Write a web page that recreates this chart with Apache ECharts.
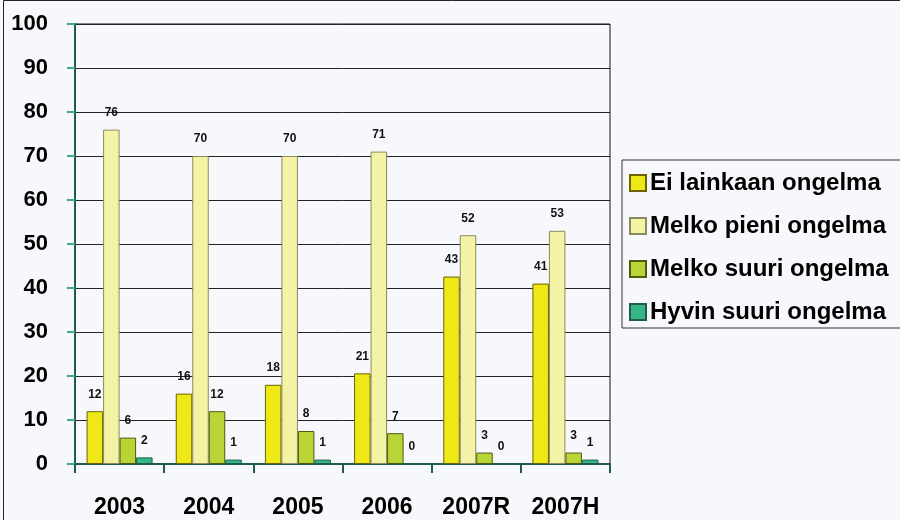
<!DOCTYPE html>
<html>
<head>
<meta charset="utf-8">
<script src="https://cdn.jsdelivr.net/npm/echarts@6/dist/echarts.min.js"></script>
<style>
  html, body { margin: 0; padding: 0; background: #F7F8FC; }
  #chart { width: 900px; height: 520px; }
</style>
</head>
<body>
<div id="chart"></div>
<script>
// vuodet
const categories = ['2003', '2004', '2005', '2006', '2007R', '2007H'];
const seriesNames = ['Ei lainkaan ongelma', 'Melko pieni ongelma', 'Melko suuri ongelma', 'Hyvin suuri ongelma'];

// pylväiden korkeudet (luettu kuvasta)
const eiLainkaan = [12, 16, 18, 20.6, 42.6, 41];
const melkoPieni = [76, 70, 70, 71, 52, 53];
const melkoSuuri = [6, 12, 7.5, 7, 2.6, 2.6];
const hyvinSuuri = [1.5, 1, 1, 0, 0, 1];

// näytetyt arvot
const labelsEi = [12, 16, 18, 21, 43, 41];
const labelsPieni = [76, 70, 70, 71, 52, 53];
const labelsSuuri = [6, 12, 8, 7, 3, 3];
const labelsHyvin = [2, 1, 1, 0, 0, 1];

const yTicks = [0, 10, 20, 30, 40, 50, 60, 70, 80, 90, 100];

const colors = ['#EEE817', '#F3F2A5', '#B9D435', '#35B686'];
const borders = ['#6B6400', '#8A8A60', '#4F5A10', '#1E5E48'];

const chart = echarts.init(document.getElementById('chart'));

const makeSeries = (i, values, labels) => ({
  name: seriesNames[i],
  type: 'bar',
  barGap: 0,
  barCategoryGap: '26%',
  data: values,
  itemStyle: { color: colors[i], borderColor: borders[i], borderWidth: 1 },
  label: {
    show: true,
    position: 'top',
    distance: 11,
    fontFamily: 'Liberation Sans',
    fontWeight: 'bold',
    fontSize: 12,
    color: '#111',
    formatter: (p) => String(labels[p.dataIndex])
  },
  animation: false
});

const option = {
  backgroundColor: '#F7F8FC',
  grid: {
    left: 75,
    right: 290,
    top: 24,
    bottom: 56,
    show: true,
    borderColor: '#111',
    borderWidth: 1,
    backgroundColor: 'transparent'
  },
  legend: {
    orient: 'vertical',
    left: 622,
    top: 160,
    width: 300,
    itemWidth: 16,
    itemHeight: 16,
    itemGap: 19,
    padding: [11, 20, 4, 7],
    borderColor: '#333',
    borderWidth: 1,
    icon: 'rect',
    textStyle: {
      fontFamily: 'Liberation Sans',
      fontWeight: 'bold',
      fontSize: 24,
      color: '#000',
      padding: [0, 0, 0, -1]
    },
    data: seriesNames
  },
  xAxis: {
    type: 'category',
    data: categories,
    axisLine: { lineStyle: { color: '#1E5E48', width: 2 } },
    axisTick: { show: true, length: 9, lineStyle: { color: '#1E5E48', width: 2 } },
    axisLabel: {
      interval: 0,
      hideOverlap: false,
      margin: 32,
      fontFamily: 'Liberation Sans',
      fontWeight: 'bold',
      fontSize: 23,
      color: '#000'
    }
  },
  yAxis: {
    type: 'value',
    min: yTicks[0],
    max: yTicks[yTicks.length - 1],
    interval: 10,
    axisLine: { show: true, lineStyle: { color: '#1E5E48', width: 2 } },
    axisTick: { show: true, length: 8, lineStyle: { color: '#3FA98A', width: 2 } },
    splitLine: { lineStyle: { color: '#222', width: 1 } },
    axisLabel: {
      margin: 27,
      fontFamily: 'Liberation Sans',
      fontWeight: 'bold',
      fontSize: 22,
      color: '#000'
    }
  },
  graphic: [{
    type: 'rect',
    shape: { x: 3.5, y: 0.5, width: 900, height: 530 },
    style: { fill: 'none', stroke: '#222', lineWidth: 1 },
    silent: true
  }],
  series: [
    makeSeries(0, eiLainkaan, labelsEi),
    makeSeries(1, melkoPieni, labelsPieni),
    makeSeries(2, melkoSuuri, labelsSuuri),
    makeSeries(3, hyvinSuuri, labelsHyvin)
  ]
};

chart.setOption(option);
</script>
</body>
</html>
